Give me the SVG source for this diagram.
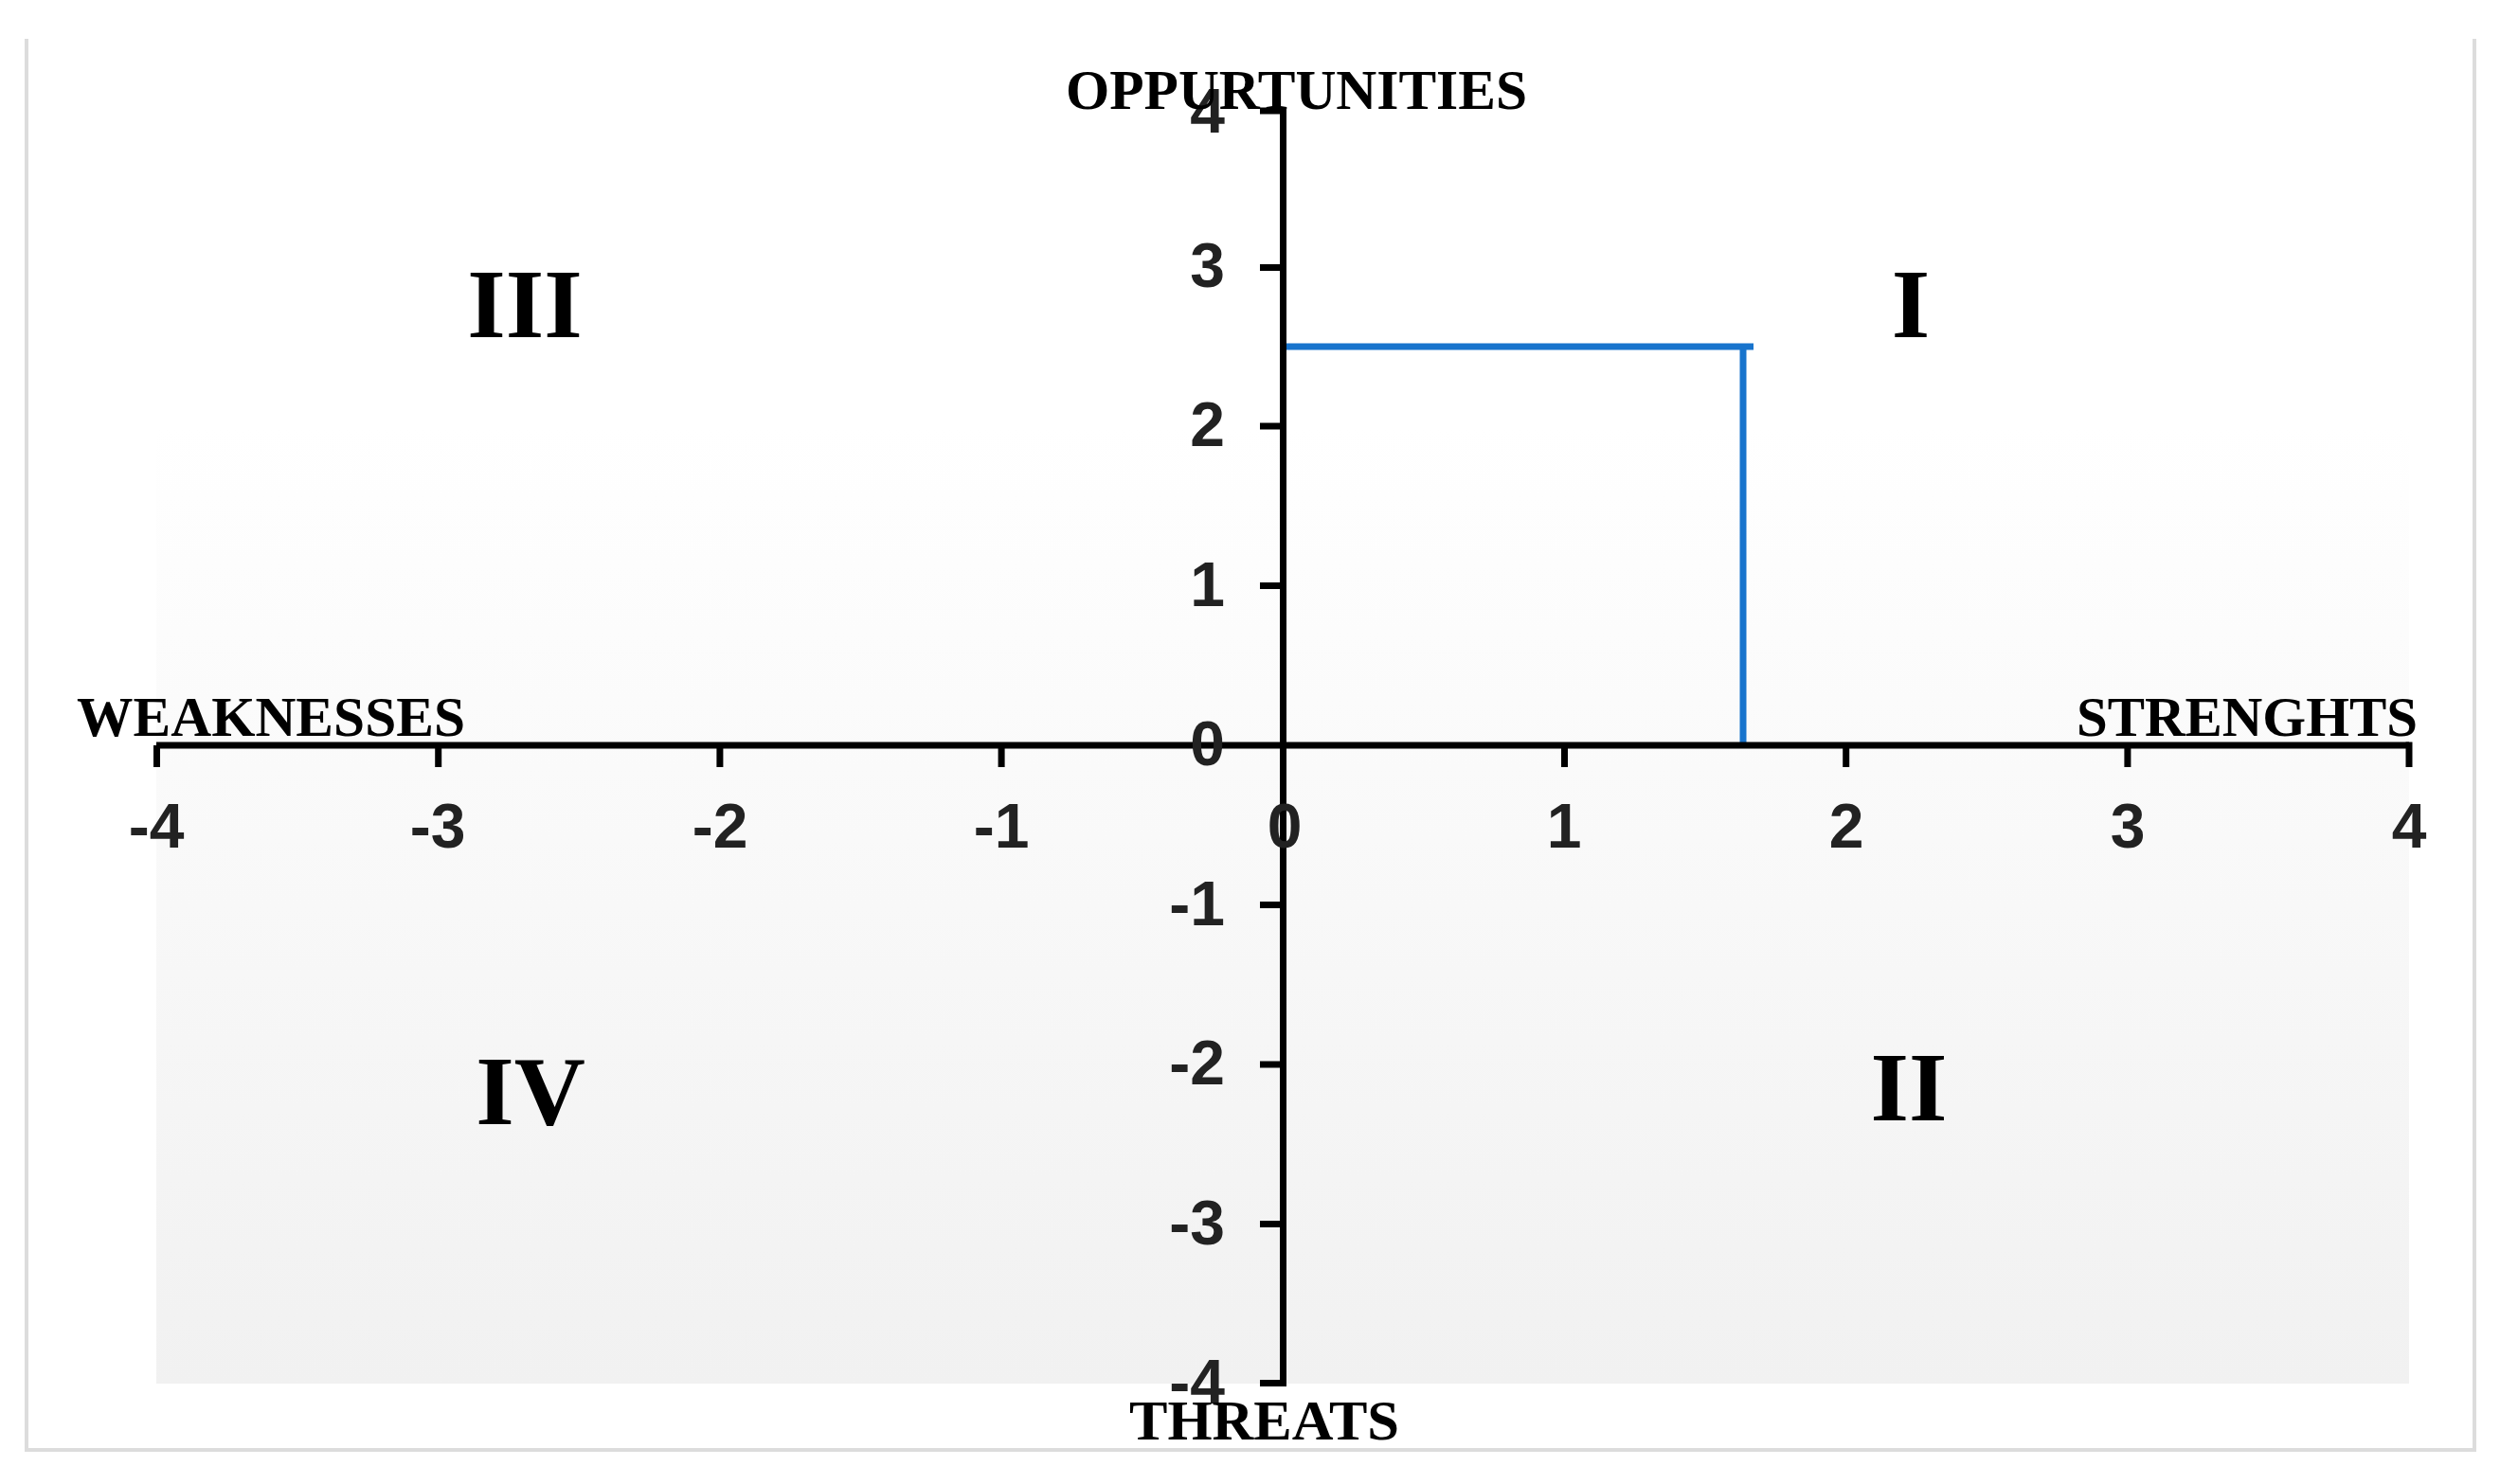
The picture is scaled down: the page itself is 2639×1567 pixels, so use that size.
<svg xmlns="http://www.w3.org/2000/svg" width="2639" height="1567" viewBox="0 0 2639 1567">
<defs>
<linearGradient id="plotFill" x1="0" y1="0" x2="0" y2="1">
<stop offset="0" stop-color="#ffffff"/>
<stop offset="0.25" stop-color="#ffffff"/>
<stop offset="1" stop-color="#f1f1f1"/>
</linearGradient>
<style>
.axis{stroke:#000;stroke-width:7;fill:none}
.tick{stroke:#000;stroke-width:7;fill:none}
.num{font-family:"Liberation Sans",Arial,sans-serif;font-weight:bold;font-size:66px;fill:#222}
.xl{text-anchor:middle}
.yl{text-anchor:end}
.title{font-family:"Liberation Serif","Times New Roman",serif;font-weight:bold;font-size:60px;fill:#000}
.roman{font-family:"Liberation Serif","Times New Roman",serif;font-weight:bold;font-size:104px;fill:#000;text-anchor:middle}
.blue{stroke:#1874cd;stroke-width:7;fill:none}
</style>
</defs>
<rect x="0" y="0" width="2639" height="1567" fill="#ffffff"/>
<g id="frame">
<path d="M28 41 V1531 H2612 V41" fill="none" stroke="#dcdcdc" stroke-width="4"/>
</g>
<g id="plot-area">
<rect x="165" y="114" width="2378" height="1347" fill="url(#plotFill)"/>
</g>
<g id="connectors">
<g id="data-line">
<line class="blue" x1="1358" y1="366" x2="1851" y2="366"/>
<line class="blue" x1="1840" y1="366" x2="1840" y2="787"/>
</g>
<g id="x-axis">
<line class="axis" x1="165" y1="787" x2="2543" y2="787"/>
<g class="tick">
<line x1="165.5" y1="787" x2="165.5" y2="810"/>
<line x1="462.7" y1="787" x2="462.7" y2="810"/>
<line x1="759.9" y1="787" x2="759.9" y2="810"/>
<line x1="1057.1" y1="787" x2="1057.1" y2="810"/>
<line x1="1651.5" y1="787" x2="1651.5" y2="810"/>
<line x1="1948.7" y1="787" x2="1948.7" y2="810"/>
<line x1="2245.9" y1="787" x2="2245.9" y2="810"/>
<line x1="2543" y1="783.5" x2="2543" y2="810"/>
</g>
</g>
<g id="y-axis">
<line class="axis" x1="1354.5" y1="114" x2="1354.5" y2="1464"/>
<g class="tick">
<line x1="1330" y1="117" x2="1354" y2="117"/>
<line x1="1330" y1="282.5" x2="1354" y2="282.5"/>
<line x1="1330" y1="450" x2="1354" y2="450"/>
<line x1="1330" y1="618.5" x2="1354" y2="618.5"/>
<line x1="1330" y1="955.5" x2="1354" y2="955.5"/>
<line x1="1330" y1="1124" x2="1354" y2="1124"/>
<line x1="1330" y1="1292.5" x2="1354" y2="1292.5"/>
<line x1="1330" y1="1460.5" x2="1358" y2="1460.5"/>
</g>
</g>
</g>
<g id="x-labels" class="num xl">
<text x="165" y="895">-4</text>
<text x="462" y="895">-3</text>
<text x="760" y="895">-2</text>
<text x="1057" y="895">-1</text>
<text x="1356" y="895">0</text>
<text x="1651" y="895">1</text>
<text x="1949" y="895">2</text>
<text x="2246" y="895">3</text>
<text x="2543" y="895">4</text>
</g>
<g id="y-labels" class="num yl">
<text x="1293" y="140">4</text>
<text x="1293" y="303">3</text>
<text x="1293" y="471">2</text>
<text x="1293" y="640">1</text>
<text x="1293" y="808">0</text>
<text x="1293" y="977">-1</text>
<text x="1293" y="1145">-2</text>
<text x="1293" y="1314">-3</text>
<text x="1293" y="1482">-4</text>
</g>
<g id="opportunities">
<text class="title" x="1125" y="115" textLength="487" lengthAdjust="spacingAndGlyphs">OPPURTUNITIES</text>
</g>
<g id="weaknesses">
<text class="title" x="81" y="777" textLength="410" lengthAdjust="spacingAndGlyphs">WEAKNESSES</text>
</g>
<g id="strengths">
<text class="title" x="2192" y="777" textLength="360" lengthAdjust="spacingAndGlyphs">STRENGHTS</text>
</g>
<g id="threats">
<text class="title" x="1192" y="1520" textLength="285" lengthAdjust="spacingAndGlyphs">THREATS</text>
</g>
<g id="quadrant-I"><text class="roman" x="2017" y="356">I</text></g>
<g id="quadrant-II"><text class="roman" x="2015" y="1183">II</text></g>
<g id="quadrant-III"><text class="roman" x="554" y="356">III</text></g>
<g id="quadrant-IV"><text class="roman" x="560" y="1187">IV</text></g>
</svg>
